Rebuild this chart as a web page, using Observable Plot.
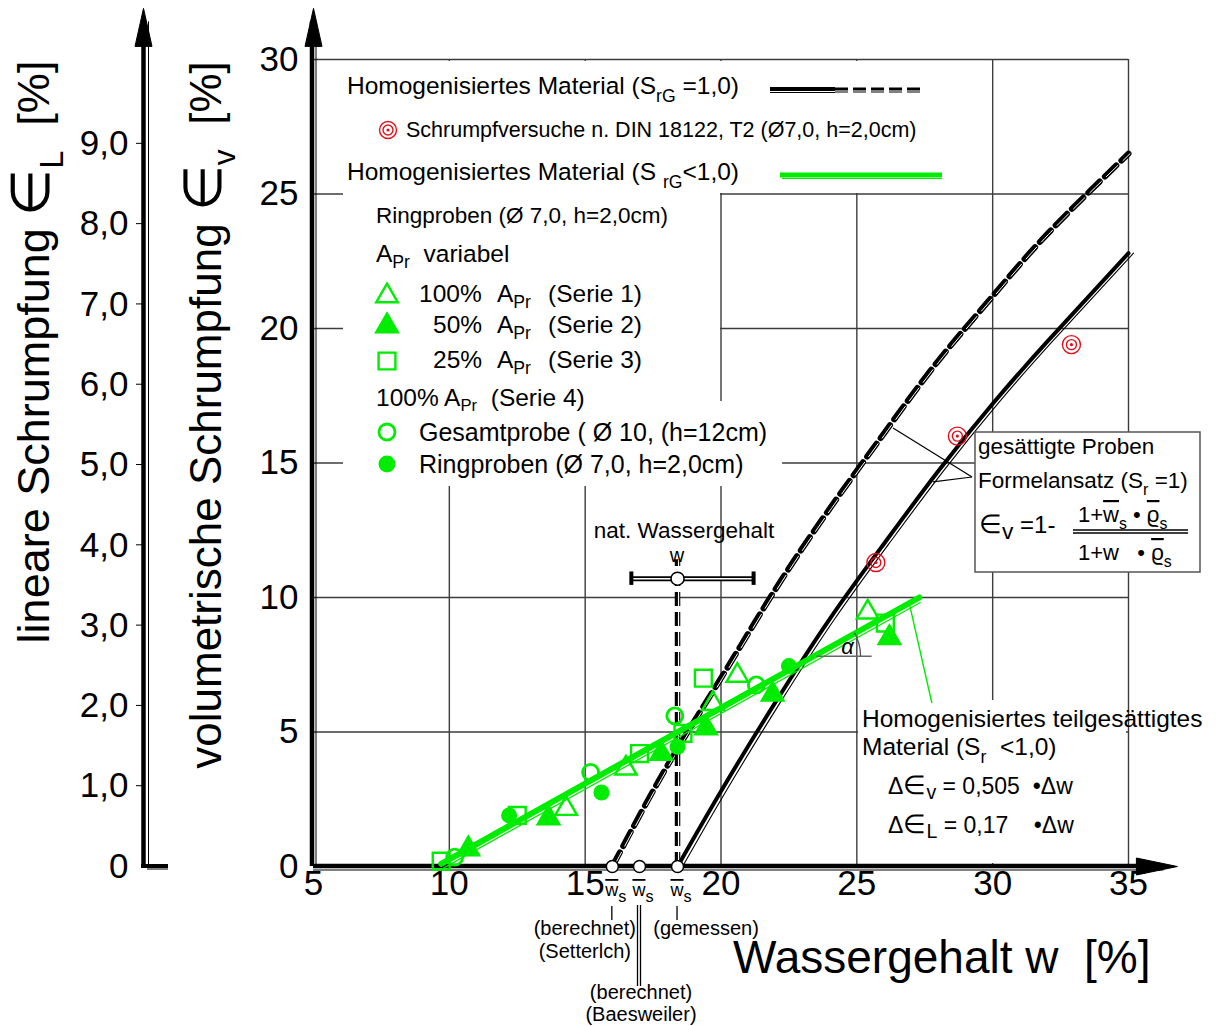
<!DOCTYPE html>
<html lang="de">
<head>
<meta charset="utf-8">
<title>Schrumpfung in Abhängigkeit vom Wassergehalt</title>
<script src="https://cdn.jsdelivr.net/npm/d3@7"></script>
<script src="https://cdn.jsdelivr.net/npm/@observablehq/plot@0.6"></script>
<style>
  html, body { margin: 0; padding: 0; background: #fff; }
  #chart svg { display: block; }
</style>
</head>
<body>
<div id="chart"></div>
<script>
const FONT = '"Liberation Sans", Arial, Helvetica, sans-serif';
const GREEN = "#00ec00";
const RED = "#e3101a";
const GRID = "#3c3c3c";

// Axis ticks
const wTicks = [5, 10, 15, 20, 25, 30, 35];        // Wassergehalt w [%]
const evTicks = [0, 5, 10, 15, 20, 25, 30];        // volumetrische Schrumpfung ∈v [%]
const elTicks = [0, 1, 2, 3, 4, 5, 6, 7, 8, 9];    // lineare Schrumpfung ∈L [%]
const elToEv = 2.985;                              // ∈v per 1 % ∈L on the left-hand axis
const wArrowTip = 36.8;                            // tip of the w axis arrow
const evArrowTip = 31.9;                           // tip of the ∈v axis arrows

// Saturated material (Sr = 1), formula with measured w̄s
const satMeasW  = [18.4, 20, 22, 24, 26, 28, 30, 32, 35];
const satMeasEv = [0, 2.8, 6.1, 9.2, 12.0, 14.7, 17.2, 19.5, 22.8];
// Saturated material (Sr = 1), formula with computed w̄s
const satCalcW  = [16.0, 18, 20, 22, 24, 26, 28, 30, 32, 35];
const satCalcEv = [0, 3.7, 7.0, 10.3, 13.3, 16.1, 18.8, 21.2, 23.5, 26.5];

// Shrinkage limits w̄s on the w axis
const wsValues = [16.0, 17.0, 18.4];

// Natural water content with its range
const natW = 18.4, natWMin = 16.7, natWMax = 21.2, natEv = 10.7, natLineTop = 11.4;

// Partially saturated material (Sr < 1), fitted line
const fitW  = [9.7, 27.3];
const fitEv = [0.1, 10.0];
const alphaLevel = 7.8;   // height of the angle marker

// Shrinkage tests DIN 18122, T2
const dinW  = [25.7, 28.7, 32.9];
const dinEv = [11.3, 16.0, 19.4];

// Ring samples, Serie 1 (100 % A_Pr)
const s1W  = [14.3, 16.5, 19.7, 20.6, 25.4];
const s1Ev = [2.15, 3.65, 6.05, 7.1, 9.45];
// Serie 2 (50 % A_Pr)
const s2W  = [10.7, 13.65, 17.8, 19.45, 21.9, 26.2];
const s2Ev = [0.65, 1.8, 4.2, 5.15, 6.4, 8.5];
// Serie 3 (25 % A_Pr)
const s3W  = [9.7, 12.5, 17.0, 18.6, 19.35, 26.05];
const s3Ev = [0.2, 1.9, 4.2, 4.95, 7.0, 9.05];
// Serie 4, Gesamtprobe
const s4gW  = [10.2, 15.2, 18.3, 21.3];
const s4gEv = [0.35, 3.5, 5.6, 6.75];
// Serie 4, Ringproben
const s4rW  = [12.2, 15.6, 18.4, 22.5];
const s4rEv = [1.9, 2.75, 4.45, 7.45];

// Leader lines from the labels to the curves (w, ∈v)
const leaderFrom = [[26.35, 16.28], [27.82, 14.28]];
const leaderTo   = [29.26, 14.46];
const greenLeader = [[26.97, 9.67], [27.78, 6.06]];

const pts = (W, E) => W.map((w, i) => ({w, e: E[i]}));
const satMeas = pts(satMeasW, satMeasEv);
const satCalc = pts(satCalcW, satCalcEv);
const fit = pts(fitW, fitEv);

const fmtComma = d => d === 0 ? "0" : d.toFixed(1).replace(".", ",");

// arrowheads, tip at the anchor point
const arrowUp = {draw(c) { c.moveTo(0, 0); c.lineTo(-8.5, 38); c.lineTo(8.5, 38); c.closePath(); }};
const arrowRight = {draw(c) { c.moveTo(0, 0); c.lineTo(-41, -8.5); c.lineTo(-41, 8.5); c.closePath(); }};

// text with subscripts: parts are strings, {sub: "..."} or {ov: "..."} (overlined)
function richText(g, x, y, parts, opt = {}) {
  const size = opt.size ?? 22;
  const t = g.append("text")
    .attr("x", x).attr("y", y)
    .attr("font-size", size)
    .attr("text-anchor", opt.anchor ?? "start")
    .attr("fill", opt.fill ?? "black")
    .style("white-space", "pre");
  if (opt.transform) t.attr("transform", opt.transform);
  if (opt.italic) t.attr("font-style", "italic");
  let shift = 0;
  for (const p of parts) {
    const isStr = typeof p === "string";
    const isSub = !isStr && p.sub != null;
    const target = isSub ? (p.dy ?? size * 0.32) : 0;
    const ts = t.append("tspan").text(isStr ? p : isSub ? p.sub : p.ov);
    if (isSub) ts.attr("font-size", size * (p.k ?? 0.72));
    if (!isStr && p.ov != null) ts.style("text-decoration", "overline");
    if (target !== shift) { ts.attr("dy", target - shift); shift = target; }
  }
  return t;
}

// white panels behind legend and labels
function backdrop() {
  const g = d3.create("svg:g").attr("fill", "white");
  for (const [x0, y0, x1, y1] of [[343, 61, 720, 486], [720, 61, 992, 193], [720, 401, 782, 486], [858, 700, 1126, 863]]) {
    g.append("rect").attr("x", x0).attr("y", y0).attr("width", x1 - x0).attr("height", y1 - y0);
  }
  return g.node();
}

function annotations(index, scales) {
  const X = scales.x, Y = scales.y;
  const g = d3.create("svg:g").attr("font-family", FONT);

  // axis titles
  richText(g, 0, 0, ["lineare Schrumpfung ", {sub: "∈", dy: 0, k: 1.2}, {sub: "L"}, "  [%]"],
    {size: 45, anchor: "middle", transform: "translate(49,352) rotate(-90)"});
  richText(g, 0, 0, ["volumetrische Schrumpfung ", {sub: "∈", dy: 0, k: 1.2}, {sub: "v"}, "  [%]"],
    {size: 44, anchor: "middle", transform: "translate(221,415) rotate(-90)"});

  // left-hand ∈L axis: foot and small ticks
  const xl = X(5) - 170;
  g.append("path").attr("d", `M${xl - 2},${Y(0)}H${xl + 25}`).attr("stroke", "black").attr("stroke-width", 4);
  g.append("path").attr("d", `M${xl + 4},${Y(0) + 3}H${xl + 25}`).attr("stroke", "black").attr("stroke-width", 1);
  for (const t of elTicks.slice(1)) {
    g.append("path").attr("d", `M${xl - 7},${Y(t * elToEv)}H${xl}`).attr("stroke", "black").attr("stroke-width", 1);
  }

  // legend
  const L = g.append("g");
  const LS = 24.5;
  richText(L, 347, 94, ["Homogenisiertes Material (S", {sub: "rG"}, " =1,0)"], {size: LS});
  L.append("path").attr("d", "M770,89H835").attr("stroke", "black").attr("stroke-width", 4);
  L.append("path").attr("d", "M770,92.5H835").attr("stroke", "black").attr("stroke-width", 1);
  L.append("path").attr("d", "M835,90H922").attr("stroke", "black").attr("stroke-width", 5).attr("stroke-dasharray", "13,5");
  L.append("path").attr("d", "M835,91H922").attr("stroke", "white").attr("stroke-width", 1).attr("stroke-dasharray", "13,5");
  for (const [r, w] of [[8.5, 1.4], [5, 1.4]]) L.append("circle").attr("cx", 388).attr("cy", 130).attr("r", r).attr("fill", "none").attr("stroke", RED).attr("stroke-width", w);
  L.append("circle").attr("cx", 388).attr("cy", 130).attr("r", 1.6).attr("fill", RED);
  richText(L, 406, 137, ["Schrumpfversuche n. DIN 18122, T2 (Ø7,0, h=2,0cm)"], {size: 21.5});
  richText(L, 347, 180, ["Homogenisiertes Material (S ", {sub: "rG"}, "<1,0)"], {size: LS});
  L.append("path").attr("d", "M780,175H942").attr("stroke", GREEN).attr("stroke-width", 5);
  L.append("path").attr("d", "M782,178.5H942").attr("stroke", GREEN).attr("stroke-width", 1.2);
  richText(L, 376, 223, ["Ringproben (Ø 7,0, h=2,0cm)"], {size: 22.5});
  richText(L, 376, 262, ["A", {sub: "Pr", dy: 6}, "  variabel"], {size: LS});
  const sym = (type, r, x, y, filled) => L.append("path")
    .attr("d", d3.symbol(type, Math.PI * r * r)())
    .attr("transform", `translate(${x},${y})`)
    .attr("fill", filled ? GREEN : "none").attr("stroke", GREEN).attr("stroke-width", 2.4);
  sym(d3.symbolTriangle, 8, 387, 296, false);
  sym(d3.symbolTriangle, 8, 387, 326, true);
  sym(d3.symbolSquare, 9.5, 387, 361, false);
  const serie = [["100%", 419, 302, "(Serie 1)"], ["50%", 433, 333, "(Serie 2)"], ["25%", 433, 368, "(Serie 3)"]];
  for (const [p, x, y, s] of serie) {
    richText(L, x, y, [p], {size: LS});
    richText(L, 497, y, ["A", {sub: "Pr", dy: 6}], {size: LS});
    richText(L, 548, y, [s], {size: LS});
  }
  richText(L, 376, 406, ["100% A", {sub: "Pr", dy: 5, k: 0.68}, "  (Serie 4)"], {size: LS});
  L.append("circle").attr("cx", 387).attr("cy", 432).attr("r", 8).attr("fill", "none").attr("stroke", GREEN).attr("stroke-width", 2.8);
  richText(L, 419, 441, ["Gesamtprobe ( Ø 10, (h=12cm)"], {size: 25});
  L.append("circle").attr("cx", 387).attr("cy", 464).attr("r", 8.5).attr("fill", GREEN);
  richText(L, 419, 473, ["Ringproben (Ø 7,0, h=2,0cm)"], {size: 25});

  // leader lines to the saturated curves
  for (const [w, e] of leaderFrom) {
    g.append("path").attr("d", `M${X(w)},${Y(e)}L${X(leaderTo[0])},${Y(leaderTo[1])}`).attr("stroke", "black").attr("stroke-width", 1.2).attr("fill", "none");
  }
  g.append("path").attr("d", `M${X(greenLeader[0][0])},${Y(greenLeader[0][1])}L${X(greenLeader[1][0])},${Y(greenLeader[1][1])}`)
    .attr("stroke", GREEN).attr("stroke-width", 1.4);

  // formula box
  const F = g.append("g");
  F.append("rect").attr("x", 975).attr("y", 432).attr("width", 225).attr("height", 140).attr("fill", "white").attr("stroke", "#555").attr("stroke-width", 1.5);
  richText(F, 978, 454, ["gesättigte Proben"], {size: 22.5});
  richText(F, 978, 488, ["Formelansatz (S", {sub: "r"}, " =1)"], {size: 22.5});
  richText(F, 979, 533, [{sub: "∈", dy: 0, k: 1.1}, {sub: "v", dy: 6, k: 0.95}, " =1-"], {size: 24});
  richText(F, 1078, 522, ["1+", {ov: "w"}, {sub: "s"}, " • ", {ov: "ϱ"}, {sub: "s"}], {size: 22});
  F.append("path").attr("d", "M1073,530H1188M1073,533H1188").attr("stroke", "black").attr("stroke-width", 1.3);
  richText(F, 1078, 560, ["1+w   • ", {ov: "ϱ"}, {sub: "s"}], {size: 22});

  // angle of the fitted line
  const x0 = X(fitW[0]), y0 = Y(fitEv[0]), x1 = X(fitW[1]), y1 = Y(fitEv[1]);
  const cy = Y(alphaLevel);
  const cx = x0 + (x1 - x0) * (cy - y0) / (y1 - y0);
  const th = Math.atan2(y0 - y1, x1 - x0), r = 48;
  g.append("path").attr("d", `M${cx + 4},${cy}H${cx + r + 11}`).attr("stroke", "#666").attr("stroke-width", 1.5);
  g.append("path").attr("d", `M${cx + r * Math.cos(th)},${cy - r * Math.sin(th)}A${r},${r} 0 0 1 ${cx + r},${cy}`)
    .attr("fill", "none").attr("stroke", "#555").attr("stroke-width", 1.3);
  richText(g, cx + 35, cy - 2, ["α"], {size: 22, anchor: "middle", italic: true});

  // labels of the partially saturated line
  richText(g, 862, 727, ["Homogenisiertes teilgesättigtes"], {size: 24.5});
  richText(g, 862, 755, ["Material (S", {sub: "r"}, "  <1,0)"], {size: 24.5});
  richText(g, 888, 794, ["Δ", {sub: "∈", dy: 0, k: 1.15}, {sub: "v", dy: 5, k: 0.85}, " = 0,505  ", "•", "Δw"], {size: 23});
  richText(g, 888, 833, ["Δ", {sub: "∈", dy: 0, k: 1.15}, {sub: "L", dy: 5, k: 0.85}, " = 0,17    ", "•", "Δw"], {size: 23});

  // natural water content
  richText(g, X(natW) + 7, Y(natEv) - 40, ["nat. Wassergehalt"], {size: 22.5, anchor: "middle"});
  richText(g, X(natW), Y(natEv) - 16, ["w"], {size: 20, anchor: "middle"});

  // shrinkage limits below the w axis
  const yb = Y(0);
  for (const w of wsValues) {
    richText(g, X(w) + 4, yb + 30, [{ov: "w"}, {sub: "s", dy: 6, k: 0.9}], {size: 18, anchor: "middle"});
  }
  const lineV = (x, a, b) => g.append("path").attr("d", `M${x},${a}V${b}`).attr("stroke", "black").attr("stroke-width", 1.3);
  lineV(X(wsValues[0]), yb + 40, yb + 54);
  lineV(X(wsValues[1]) - 1.5, yb + 39, yb + 120);
  lineV(X(wsValues[1]) + 1.5, yb + 39, yb + 120);
  lineV(X(wsValues[2]), yb + 40, yb + 54);
  richText(g, X(wsValues[0]) - 27, yb + 69, ["(berechnet)"], {size: 20, anchor: "middle"});
  richText(g, X(wsValues[0]) - 27, yb + 92, ["(Setterlch)"], {size: 20, anchor: "middle"});
  richText(g, X(wsValues[2]) + 29, yb + 69, ["(gemessen)"], {size: 20, anchor: "middle"});
  richText(g, X(wsValues[1]) + 2, yb + 133, ["(berechnet)"], {size: 20, anchor: "middle"});
  richText(g, X(wsValues[1]) + 2, yb + 155, ["(Baesweiler)"], {size: 20, anchor: "middle"});

  return g.node();
}

const dashed = (data, opts) => [
  Plot.line(data, {...opts, stroke: "black", strokeWidth: 6, strokeDasharray: "16,7"}),
  Plot.line(data, {...opts, stroke: "white", strokeWidth: 1, strokeDasharray: "16,7", dx: 1.6})
];

const green = {stroke: GREEN, strokeWidth: 2.4};

const chart = Plot.plot({
  width: 1221,
  height: 1026,
  marginLeft: 313,
  marginRight: 93,
  marginTop: 59,
  marginBottom: 160,
  x: {domain: [5, 35], axis: null},
  y: {domain: [0, 30], axis: null},
  style: {fontFamily: FONT, background: "white", overflow: "visible", color: "black"},
  marks: [
    // grid
    Plot.ruleX(wTicks.slice(1), {stroke: GRID, strokeWidth: 1.4}),
    Plot.ruleY(evTicks.slice(1), {stroke: GRID, strokeWidth: 1.4}),
    backdrop,

    // axes
    Plot.ruleX([5], {y1: 0, y2: evArrowTip - 0.5, stroke: "black", strokeWidth: 4.5, dx: -1.5}),
    Plot.ruleX([5], {y1: 0, y2: evArrowTip - 0.5, stroke: "black", strokeWidth: 1, dx: 2.5}),
    Plot.ruleX([5], {y1: 0, y2: evArrowTip - 0.5, stroke: "black", strokeWidth: 4.5, dx: -170}),
    Plot.ruleX([5], {y1: 0, y2: evArrowTip - 0.5, stroke: "black", strokeWidth: 1, dx: -165}),
    Plot.ruleY([0], {x1: 5, x2: wArrowTip - 0.5, stroke: "black", strokeWidth: 4.5, dy: -0.5}),
    Plot.ruleY([0], {x1: 5, x2: wArrowTip - 0.5, stroke: "black", strokeWidth: 1, dy: 3.5}),

    // saturated material
    ...dashed(satCalc, {x: "w", y: "e", curve: "natural"}),
    Plot.line(satMeas, {x: "w", y: "e", curve: "natural", stroke: "black", strokeWidth: 4}),
    Plot.line(satMeas, {x: "w", y: "e", curve: "natural", stroke: "black", strokeWidth: 1.1, dx: 5}),

    // natural water content
    Plot.ruleX([natW], {y1: 0, y2: natLineTop, stroke: "black", strokeWidth: 5.5, strokeDasharray: "14,6"}),
    Plot.ruleX([natW], {y1: 0, y2: natLineTop, stroke: "white", strokeWidth: 1.2, strokeDasharray: "14,6", dx: 1}),
    Plot.ruleY([natEv], {x1: natWMin, x2: natWMax, stroke: "black", strokeWidth: 5}),
    Plot.ruleY([natEv], {x1: natWMin, x2: natWMax, stroke: "white", strokeWidth: 1.5}),
    Plot.ruleX([natWMin, natWMax], {y1: natEv - 0.25, y2: natEv + 0.25, stroke: "black", strokeWidth: 4}),

    // partially saturated material
    Plot.line(fit, {x: "w", y: "e", stroke: GREEN, strokeWidth: 6}),
    Plot.line(fit, {x: "w", y: "e", stroke: GREEN, strokeWidth: 1.3, dx: 1, dy: 5}),

    // ring samples
    Plot.dot(pts(s3W, s3Ev), {x: "w", y: "e", symbol: "square", r: 9.5, fill: "none", ...green}),
    Plot.dot(pts(s1W, s1Ev), {x: "w", y: "e", symbol: "triangle", r: 8, fill: "none", ...green}),
    Plot.dot(pts(s2W, s2Ev), {x: "w", y: "e", symbol: "triangle", r: 8, fill: GREEN, ...green}),
    Plot.dot(pts(s4gW, s4gEv), {x: "w", y: "e", r: 8, fill: "none", stroke: GREEN, strokeWidth: 2.8}),
    Plot.dot(pts(s4rW, s4rEv), {x: "w", y: "e", r: 8, fill: GREEN}),

    // DIN 18122 tests
    Plot.dot(pts(dinW, dinEv), {x: "w", y: "e", r: 9, fill: "none", stroke: RED, strokeWidth: 1.4}),
    Plot.dot(pts(dinW, dinEv), {x: "w", y: "e", r: 5, fill: "none", stroke: RED, strokeWidth: 1.4}),
    Plot.dot(pts(dinW, dinEv), {x: "w", y: "e", r: 1.6, fill: RED}),

    // shrinkage limits and natural water content
    Plot.dot(wsValues, {x: d => d, y: 0, r: 6, fill: "white", stroke: "black", strokeWidth: 1.5}),
    Plot.dot([natW], {x: d => d, y: natEv, r: 6.5, fill: "white", stroke: "black", strokeWidth: 1.5}),

    // arrowheads
    Plot.dot([5], {x: d => d, y: evArrowTip, symbol: arrowUp, fill: "black", stroke: "black", strokeWidth: 1}),
    Plot.dot([5], {x: d => d, y: evArrowTip, symbol: arrowUp, fill: "black", stroke: "black", strokeWidth: 1, dx: -170}),
    Plot.dot([wArrowTip], {x: d => d, y: 0, symbol: arrowRight, fill: "black", stroke: "black", strokeWidth: 1}),

    // tick labels
    Plot.text(wTicks, {x: d => d, text: d => String(d), frameAnchor: "bottom", dy: 28, fontSize: 35}),
    Plot.text(evTicks, {y: d => d, text: d => String(d), frameAnchor: "left", dx: -15, textAnchor: "end", fontSize: 35}),
    Plot.text(elTicks, {y: d => d * elToEv, text: fmtComma, frameAnchor: "left", dx: -185, textAnchor: "end", fontSize: 35}),
    Plot.text(["Wassergehalt w\u00a0\u00a0[%]"], {frameAnchor: "bottom-right", textAnchor: "end", dx: 22, dy: 106, fontSize: 46}),

    annotations
  ]
});

document.getElementById("chart").append(chart);
</script>
</body>
</html>
